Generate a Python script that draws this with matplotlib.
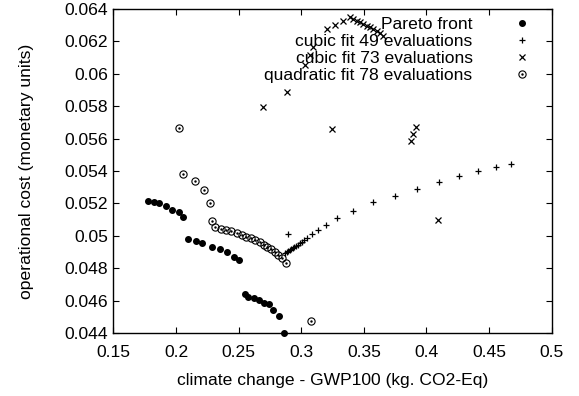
import matplotlib
matplotlib.use('Agg')
import matplotlib.pyplot as plt
from matplotlib.legend_handler import HandlerTuple

plt.rcParams['font.family'] = ['Liberation Sans', 'DejaVu Sans']

# Pareto front (filled dots)
pareto_x = [0.1779, 0.1824, 0.1864, 0.1918, 0.1970, 0.2022, 0.2058,
            0.2096, 0.2160, 0.2210, 0.2285, 0.2351, 0.2405, 0.2466, 0.2506,
            0.2549, 0.2578, 0.2623, 0.2663, 0.2703, 0.2743, 0.2777, 0.2825, 0.2863]
pareto_y = [0.05217, 0.05209, 0.05201, 0.05182, 0.05158, 0.05149, 0.05118,
            0.04978, 0.04968, 0.04954, 0.04933, 0.04917, 0.04900, 0.04871, 0.04851,
            0.04639, 0.04624, 0.04616, 0.04604, 0.04587, 0.04579, 0.04540, 0.04505, 0.04400]

# cubic fit, 49 evaluations (+)
cubic49_x = [0.2871, 0.2883, 0.2895, 0.2907, 0.2919, 0.2932, 0.2945, 0.2958,
             0.2974, 0.2990, 0.3004, 0.3022, 0.3044, 0.3084, 0.3132, 0.3196,
             0.3288, 0.3414, 0.3576, 0.3749, 0.3927, 0.4101, 0.4263, 0.4415,
             0.4556, 0.4676, 0.2897]
cubic49_y = [0.04892, 0.04900, 0.04906, 0.04912, 0.04918, 0.04925, 0.04931, 0.04937,
             0.04944, 0.04954, 0.04964, 0.04976, 0.04988, 0.05009, 0.05036, 0.05065,
             0.05107, 0.05156, 0.05207, 0.05244, 0.05291, 0.05334, 0.05370, 0.05398,
             0.05423, 0.05446, 0.05009]

# cubic fit, 73 evaluations (x)
cubic73_x = [0.2697, 0.2884, 0.3033, 0.3070, 0.3097, 0.3204, 0.3270, 0.3336,
             0.3390, 0.3416, 0.3443, 0.3470, 0.3496, 0.3523, 0.3550, 0.3576,
             0.3603, 0.3629, 0.3656, 0.3248, 0.3877, 0.3895, 0.3917, 0.4095]
cubic73_y = [0.05797, 0.05885, 0.06053, 0.06116, 0.06167, 0.06275, 0.06301, 0.06324,
             0.06348, 0.06338, 0.06328, 0.06318, 0.06307, 0.06297, 0.06287, 0.06277,
             0.06264, 0.06250, 0.06233, 0.05657, 0.05587, 0.05631, 0.05669, 0.05098]

# quadratic fit, 78 evaluations (dotted circles)
quad_x = [0.2026, 0.2053, 0.2154, 0.2224, 0.2272, 0.2285, 0.2309, 0.2357,
          0.2399, 0.2442, 0.2485, 0.2525, 0.2562, 0.2599, 0.2633, 0.2669,
          0.2700, 0.2729, 0.2761, 0.2791, 0.2817, 0.2847, 0.2876, 0.3076]
quad_y = [0.05664, 0.05380, 0.05336, 0.05283, 0.05202, 0.05091, 0.05054, 0.05044,
          0.05036, 0.05028, 0.05017, 0.05007, 0.04994, 0.04985, 0.04972, 0.04960,
          0.04945, 0.04931, 0.04917, 0.04898, 0.04881, 0.04860, 0.04830, 0.04477]

x_ticks = [0.15, 0.2, 0.25, 0.3, 0.35, 0.4, 0.45, 0.5]
x_labels = ['0.15', '0.2', '0.25', '0.3', '0.35', '0.4', '0.45', '0.5']
y_ticks = [0.044, 0.046, 0.048, 0.05, 0.052, 0.054, 0.056, 0.058, 0.06, 0.062, 0.064]
y_labels = ['0.044', '0.046', '0.048', '0.05', '0.052', '0.054', '0.056',
            '0.058', '0.06', '0.062', '0.064']

FS = 12.6

fig = plt.figure(figsize=(5.79, 3.96), dpi=100)
ax = fig.add_axes([0.1959, 0.1591, 0.7568, 0.8182])

h1, = ax.plot(pareto_x, pareto_y, 'o', color='black', ms=4.0, ls='none', clip_on=False)
h2, = ax.plot(cubic49_x, cubic49_y, '+', color='black', ms=5, mew=0.9, ls='none')
h3, = ax.plot(cubic73_x, cubic73_y, 'x', color='black', ms=4.5, mew=0.9, ls='none')
h4a, = ax.plot(quad_x, quad_y, 'o', mfc='none', mec='black', ms=5.2, mew=0.8, ls='none')
h4b, = ax.plot(quad_x, quad_y, '.', color='black', ms=1.5, ls='none')

ax.set_xlim(0.15, 0.5)
ax.set_ylim(0.044, 0.064)
ax.set_xticks(x_ticks)
ax.set_xticklabels(x_labels)
ax.set_yticks(y_ticks)
ax.set_yticklabels(y_labels)
ax.tick_params(direction='in', length=4, width=0.8, top=True, right=True,
               labelsize=FS)
ax.tick_params(axis='x', pad=9)
ax.tick_params(axis='y', pad=4)
for s in ax.spines.values():
    s.set_linewidth(1.0)

ax.set_xlabel('climate change - GWP100 (kg. CO2-Eq)', fontsize=FS, labelpad=9)
ax.set_ylabel('operational cost (monetary units)', fontsize=FS, labelpad=22)

ax.legend([h1, h2, h3, (h4a, h4b)],
          ['Pareto front', 'cubic fit 49 evaluations', 'cubic fit 73 evaluations',
           'quadratic fit 78 evaluations'],
          handler_map={tuple: HandlerTuple(ndivide=1, pad=0)},
          loc='upper right', markerfirst=False, frameon=False, fontsize=FS,
          handlelength=2.5, handletextpad=1.57, labelspacing=0.1,
          borderaxespad=0.3, borderpad=0.15)

fig.savefig('out.png', dpi=100)
